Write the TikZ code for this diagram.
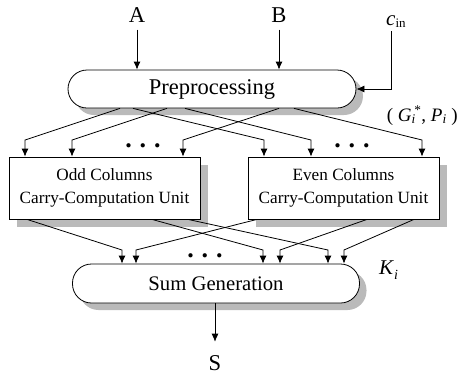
\documentclass[tikz,border=0pt]{standalone}
\usepackage{fontspec}
\setmainfont{Liberation Serif}
\usetikzlibrary{arrows.meta,shadows,calc}
\begin{document}
\begin{tikzpicture}[x=1pt,y=-1pt,
  arr/.style={-{Latex[length=8pt,width=7pt]}, line width=0.8pt},
  stadium/.style={draw, line width=0.8pt, fill=white, rounded corners=19pt,
    minimum width=288pt, minimum height=38pt, inner sep=0pt,
    drop shadow={shadow xshift=7pt, shadow yshift=-7pt, fill=black!27, opacity=1},
    font=\fontsize{20.7}{24}\selectfont},
  unitbox/.style={draw, line width=0.8pt, fill=white, minimum width=191pt,
    minimum height=62pt, inner sep=0pt, align=center,
    drop shadow={shadow xshift=8pt, shadow yshift=-8pt, fill=black!27, opacity=1},
    font=\fontsize{17.2}{23}\selectfont},
  lbl/.style={font=\fontsize{22.6}{26}\selectfont, inner sep=0pt},
  sidelbl/.style={font=\fontsize{19}{22}\selectfont, inner sep=0pt},
  dotrow/.style={font=\fontsize{26}{26}\selectfont\bfseries, inner sep=0pt, anchor=base},
]
\useasboundingbox (0,0) rectangle (459,376);

% main blocks
\node[stadium, font=\fontsize{22.5}{26}\selectfont] (pre) at (212,89) {Preprocessing};
\node[unitbox] (odd) at (104.5,188) {Odd Columns\\Carry-Computation Unit};
\node[unitbox] (even) at (343.5,188) {Even Columns\\Carry-Computation Unit};
\node[stadium, minimum width=287pt, minimum height=39pt] (sum) at (216,283.5) {Sum Generation};

% labels
\node[lbl] (A) at (137,15) {A};
\node[lbl] (B) at (279,15) {B};
\node[lbl] (S) at (215,363.5) {S};
\node[inner sep=0pt, anchor=base west] (cin) at (386,25)
  {\fontsize{21}{24}\selectfont\textit{c}\raisebox{-0.3ex}{\fontsize{13}{15}\selectfont in}};
\node[sidelbl, anchor=base east] (gp) at (458,121)
  {(\ \textit{G}\textsubscript{\textit{i}}\kern-1.5pt\textsuperscript{*}, \textit{P}\textsubscript{\textit{i}}\ )};
\node[sidelbl, anchor=base west] (ki) at (379,274)
  {\fontsize{21}{24}\selectfont\textit{K}\raisebox{-0.55ex}{\fontsize{14}{16}\selectfont\textit{i}}};

% dots
\node[dotrow] (d1) at (143,147) {.\hspace{8pt}.\hspace{8pt}.};
\node[dotrow] (d2) at (352,147) {.\hspace{8pt}.\hspace{8pt}.};
\node[dotrow] (d3) at (205,257) {.\hspace{8pt}.\hspace{8pt}.};

% inputs
\draw[arr] ([yshift=-7pt]A.south) -- (A |- pre.north);
\draw[arr] ([yshift=-7pt]B.south) -- (B |- pre.north);
\coordinate (cintop) at (391,31);
\draw[arr] (cintop) |- (pre.east);

% preprocessing -> column units
\foreach \s/\t/\n in {120/25/odd, 167/72/odd, 279/183/odd, 133/264/even, 185/311/even, 294/422/even}{
  \coordinate (s) at (\s,0);
  \coordinate (t) at (\t,140);
  \draw[arr] (pre.south -| s) -- (t) -- (\n.north -| t);
}

% column units -> sum generation
\foreach \s/\n/\t in {27/odd/122, 152/odd/263, 188/odd/328, 257/even/136, 367/even/280, 414/even/344}{
  \coordinate (s) at (\s,0);
  \coordinate (t) at (\t,250);
  \draw[arr] (\n.south -| s) -- (t) -- (sum.north -| t);
}

% output
\draw[arr] (sum.south -| S) -- ([yshift=14pt]S.north);
\end{tikzpicture}
\end{document}
